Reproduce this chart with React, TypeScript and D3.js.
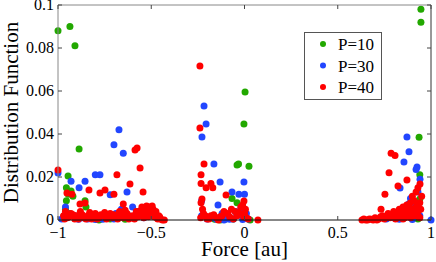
import React, { useEffect, useRef } from 'react';
import * as d3 from 'd3';

const width = 436;
const height = 262;
const margin = { top: 5, right: 5, bottom: 42, left: 58 };

const xTicks = [-1, -0.5, 0, 0.5, 1];
const xTickLabels = ['\u22121', '\u22120.5', '0', '0.5', '1'];
const yTicks = [0, 0.02, 0.04, 0.06, 0.08, 0.1];
const yTickLabels = ['0', '0.02', '0.04', '0.06', '0.08', '0.1'];

const seriesNames = ['P=10', 'P=30', 'P=40'];
const seriesColors = ['#22a800', '#2246ff', '#ff0000'];

// [force, distribution]
const p10: [number, number][] = [
  [-1.0, 0.088], [-0.936, 0.090], [-0.909, 0.081], [-0.887, 0.033], [-0.946, 0.0205],
  [-0.955, 0.015], [-0.93, 0.0135], [-0.945, 0.012], [-0.955, 0.009], [-0.92, 0.011],
  [-0.855, 0.009], [-0.85, 0.006], [-0.96, 0.005], [-0.94, 0.003], [-0.9, 0.001],
  [-0.78, 0.0], [-0.72, 0.0005], [-0.64, 0.0003], [-0.97, 0.0015], [-0.76, 0.001],
  [0.003, 0.0595], [-0.003, 0.0447], [-0.04, 0.0256], [-0.032, 0.026], [0.024, 0.025],
  [-0.067, 0.010], [-0.04, 0.008], [-0.01, 0.003], [-0.13, 0.0], [-0.1, 0.0005],
  [-0.06, 0.0005], [0.0, 0.001], [0.03, 0.0], [-0.19, 0.001], [-0.16, 0.0003],
  [0.946, 0.098], [0.946, 0.092], [0.936, 0.0385], [0.94, 0.021], [0.94, 0.0098],
  [0.93, 0.003], [0.93, 0.0005], [0.92, 0.006],
];

const p30: [number, number][] = [
  [-1.0, 0.0219], [-0.93, 0.018], [-0.855, 0.018], [-0.887, 0.015], [-0.80, 0.021],
  [-0.775, 0.021], [-0.72, 0.0117], [-0.70, 0.035], [-0.673, 0.042], [-0.65, 0.031],
  [-0.63, 0.013], [-0.96, 0.006], [-0.95, 0.003], [-0.91, 0.002], [-0.87, 0.001],
  [-0.82, 0.002], [-0.78, 0.001], [-0.74, 0.002], [-0.69, 0.003], [-0.66, 0.005],
  [-0.62, 0.002], [-0.6, 0.006], [-0.57, 0.004], [-0.54, 0.001], [-0.98, 0.0005],
  [-0.84, 0.0005], [-0.7, 0.0005], [-0.89, 0.0003], [-0.8, 0.0002], [-0.76, 0.0004],
  [-0.228, 0.0386], [-0.217, 0.053], [-0.206, 0.0447], [-0.164, 0.026], [-0.131, 0.0177],
  [-0.003, 0.0177], [-0.067, 0.013], [-0.03, 0.012], [0.0, 0.012], [-0.142, 0.007],
  [-0.23, 0.009], [-0.23, 0.002], [-0.2, 0.0005], [-0.17, 0.001], [-0.12, 0.003],
  [-0.09, 0.002], [-0.05, 0.004], [-0.02, 0.005], [0.01, 0.003], [0.02, 0.0005],
  [-0.11, 0.0], [-0.06, 0.0005], [-0.15, 0.0003], [-0.08, 0.0003], [-0.01, 0.0002],
  [0.871, 0.0386], [0.882, 0.0317], [0.855, 0.027], [0.925, 0.0246], [0.92, 0.0235],
  [0.941, 0.019], [0.834, 0.0149], [0.89, 0.01], [0.91, 0.008], [0.87, 0.005],
  [0.9, 0.004], [0.94, 0.002], [0.85, 0.002], [0.8, 0.001], [0.76, 0.0005],
  [1.0, 0.0], [0.93, 0.013], [0.88, 0.0075], [0.83, 0.0003], [0.9, 0.0002],
];

const p40: [number, number][] = [
  [-1.0, 0.0233], [-0.684, 0.021], [-0.614, 0.0167], [-0.544, 0.013], [-0.834, 0.0139],
  [-0.748, 0.0139], [-0.775, 0.0126], [-0.70, 0.012], [-0.952, 0.0126], [-0.925, 0.012],
  [-0.882, 0.0074], [-0.855, 0.0079], [-0.65, 0.0074], [-0.587, 0.0326], [-0.576, 0.0335],
  [-0.56, 0.0242],
  [-0.97, 0.002], [-0.96, 0.004], [-0.95, 0.001], [-0.93, 0.003], [-0.91, 0.0005],
  [-0.9, 0.002], [-0.88, 0.004], [-0.86, 0.001], [-0.84, 0.002], [-0.82, 0.0005],
  [-0.8, 0.003], [-0.78, 0.001], [-0.76, 0.002], [-0.74, 0.0005], [-0.72, 0.003],
  [-0.71, 0.001], [-0.69, 0.002], [-0.67, 0.004], [-0.65, 0.001], [-0.63, 0.003],
  [-0.62, 0.0005], [-0.6, 0.002], [-0.58, 0.004], [-0.56, 0.003], [-0.55, 0.006],
  [-0.54, 0.001], [-0.53, 0.005], [-0.52, 0.003], [-0.51, 0.006], [-0.5, 0.002],
  [-0.49, 0.005], [-0.48, 0.003], [-0.47, 0.001], [-0.46, 0.002], [-0.45, 0.0005],
  [-0.44, 0.0], [-0.43, 0.0],
  [-0.965, 0.0005], [-0.94, 0.0015], [-0.92, 0.0025], [-0.89, 0.0005], [-0.87, 0.0025],
  [-0.85, 0.0005], [-0.83, 0.0035], [-0.81, 0.0015], [-0.79, 0.0005], [-0.77, 0.0025],
  [-0.75, 0.0035], [-0.73, 0.0015], [-0.7, 0.0025], [-0.68, 0.0005], [-0.66, 0.0025],
  [-0.64, 0.0045], [-0.61, 0.0015], [-0.59, 0.0005], [-0.57, 0.0015], [-0.555, 0.0045],
  [-0.535, 0.0025], [-0.525, 0.0065], [-0.515, 0.0015], [-0.505, 0.0045], [-0.495, 0.0065],
  [-0.485, 0.0015], [-0.475, 0.004], [-0.465, 0.0005], [-0.455, 0.0015],
  [-0.239, 0.0716], [-0.239, 0.0428], [-0.217, 0.026], [-0.233, 0.021], [-0.233, 0.017],
  [-0.206, 0.015], [-0.18, 0.017], [-0.17, 0.015], [-0.228, 0.0098], [-0.233, 0.008],
  [-0.099, 0.0116], [-0.003, 0.0088], [-0.01, 0.007], [-0.02, 0.006], [-0.05, 0.004],
  [-0.07, 0.005], [-0.09, 0.003], [-0.12, 0.002], [-0.15, 0.001], [-0.18, 0.002],
  [-0.2, 0.0005], [-0.22, 0.003], [-0.235, 0.001], [-0.14, 0.0], [-0.11, 0.004],
  [-0.04, 0.002], [0.0, 0.003], [0.01, 0.001], [0.02, 0.0005], [0.072, 0.0],
  [-0.225, 0.005], [-0.21, 0.002], [-0.19, 0.0005], [-0.165, 0.0025], [-0.13, 0.0015],
  [-0.08, 0.0015], [-0.06, 0.0005], [-0.03, 0.0035], [-0.005, 0.0015], [0.005, 0.005],
  [0.786, 0.031], [0.807, 0.030], [0.775, 0.022], [0.871, 0.0186], [0.823, 0.0158],
  [0.753, 0.012], [0.941, 0.0167], [0.92, 0.013], [0.9, 0.011], [0.732, 0.005],
  [0.93, 0.015],
  [0.63, 0.0], [0.65, 0.0], [0.67, 0.0005], [0.69, 0.0], [0.7, 0.001],
  [0.72, 0.0005], [0.74, 0.002], [0.76, 0.001], [0.77, 0.003], [0.79, 0.002],
  [0.8, 0.004], [0.82, 0.003], [0.83, 0.005], [0.84, 0.002], [0.85, 0.006],
  [0.86, 0.004], [0.87, 0.007], [0.88, 0.003], [0.89, 0.008], [0.9, 0.005],
  [0.91, 0.009], [0.92, 0.006], [0.93, 0.004], [0.94, 0.008], [0.94, 0.001],
  [0.95, 0.011], [0.91, 0.002], [0.86, 0.001], [0.81, 0.0005],
  [0.64, 0.0005], [0.66, 0.0], [0.68, 0.0003], [0.71, 0.0], [0.73, 0.0015],
  [0.75, 0.0005], [0.78, 0.001], [0.8, 0.0015], [0.82, 0.001], [0.84, 0.004],
  [0.85, 0.0005], [0.87, 0.002], [0.88, 0.0055], [0.89, 0.001], [0.9, 0.0025],
  [0.92, 0.0035], [0.93, 0.007], [0.935, 0.0015], [0.945, 0.005],
];

const allSeries = [p10, p30, p40];

export default function App() {
  const ref = useRef<SVGSVGElement>(null);

  useEffect(() => {
    const svg = d3.select(ref.current);
    svg.selectAll('*').remove();

    const x = d3.scaleLinear().domain([-1, 1]).range([margin.left, width - margin.right]);
    const y = d3.scaleLinear().domain([0, 0.1]).range([height - margin.bottom, margin.top]);
    const font = '"Liberation Serif", "Times New Roman", serif';

    // points
    allSeries.forEach((pts, i) => {
      svg.append('g')
        .selectAll('circle')
        .data(pts)
        .enter()
        .append('circle')
        .attr('cx', (d) => x(d[0]))
        .attr('cy', (d) => y(d[1]))
        .attr('r', 3.5)
        .style('fill', seriesColors[i]);
    });

    const x0 = x(-1), x1 = x(1), y0 = y(0), y1 = y(0.1);

    // frame
    svg.append('line').attr('x1', x0).attr('x2', x1).attr('y1', y1).attr('y2', y1).attr('stroke', '#888');
    svg.append('line').attr('x1', x0).attr('x2', x0).attr('y1', y0).attr('y2', y1).attr('stroke', '#888');
    svg.append('line').attr('x1', x1).attr('x2', x1).attr('y1', y0).attr('y2', y1).attr('stroke', '#333');
    svg.append('line').attr('x1', x0).attr('x2', x1).attr('y1', y0).attr('y2', y0).attr('stroke', '#111');

    // ticks, pointing inward
    const tk = svg.append('g').attr('stroke', '#444');
    xTicks.forEach((t) => {
      tk.append('line').attr('x1', x(t)).attr('x2', x(t)).attr('y1', y0).attr('y2', y0 - 4);
      tk.append('line').attr('x1', x(t)).attr('x2', x(t)).attr('y1', y1).attr('y2', y1 + 4);
    });
    yTicks.forEach((t) => {
      tk.append('line').attr('x1', x0).attr('x2', x0 + 4).attr('y1', y(t)).attr('y2', y(t));
      tk.append('line').attr('x1', x1).attr('x2', x1 - 4).attr('y1', y(t)).attr('y2', y(t));
    });

    svg.append('g')
      .selectAll('text')
      .data(xTicks)
      .enter()
      .append('text')
      .attr('x', (d) => x(d))
      .attr('y', y0 + 18)
      .attr('text-anchor', 'middle')
      .style('font-family', font)
      .style('font-size', '16px')
      .text((d, i) => xTickLabels[i]);

    svg.append('g')
      .selectAll('text')
      .data(yTicks)
      .enter()
      .append('text')
      .attr('x', x0 - 4)
      .attr('y', (d) => y(d) + 5)
      .attr('text-anchor', 'end')
      .style('font-family', font)
      .style('font-size', '16px')
      .text((d, i) => yTickLabels[i]);

    svg.append('text')
      .attr('x', (x0 + x1) / 2)
      .attr('y', 256)
      .attr('text-anchor', 'middle')
      .style('font-family', font)
      .style('font-size', '21px')
      .text('Force [au]');

    svg.append('text')
      .attr('transform', `translate(18, ${(y0 + y1) / 2}) rotate(-90)`)
      .attr('text-anchor', 'middle')
      .style('font-family', font)
      .style('font-size', '21px')
      .text('Distribution Function');

    // legend
    const lg = svg.append('g');
    lg.append('rect')
      .attr('x', 304.5).attr('y', 32.5).attr('width', 77).attr('height', 67)
      .attr('fill', '#fff').attr('stroke', '#555');
    seriesNames.forEach((name, i) => {
      const cy = 44 + i * 21.5;
      lg.append('circle').attr('cx', 323).attr('cy', cy).attr('r', 3).style('fill', seriesColors[i]);
      lg.append('text')
        .attr('x', 338).attr('y', cy + 6)
        .style('font-family', font)
        .style('font-size', '17px')
        .text(name);
    });
  }, []);

  return (
    <svg
      ref={ref}
      width={width}
      height={height}
      style={{ position: 'absolute', left: 0, top: 0, background: '#fff' }}
    />
  );
}
